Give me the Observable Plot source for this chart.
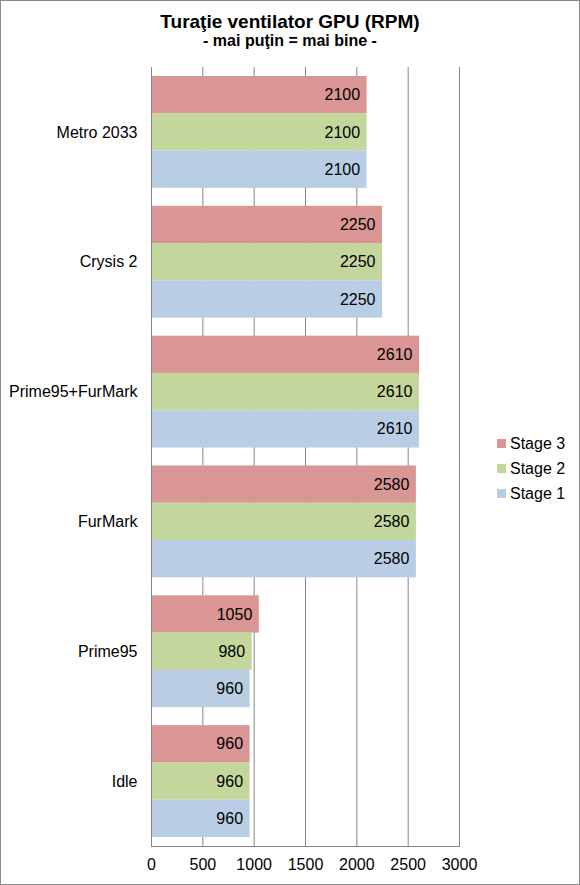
<!DOCTYPE html>
<html><head><meta charset="utf-8">
<script src="https://cdn.jsdelivr.net/npm/d3@7"></script>
<script src="https://cdn.jsdelivr.net/npm/@observablehq/plot@0.6"></script>
<style>
body{margin:0;background:#fff;font-family:"Liberation Sans",Arial,sans-serif;}
#chart{position:relative;width:580px;height:885px;overflow:hidden;background:#fff;}
#border{position:absolute;left:0;top:0;width:580px;height:885px;box-sizing:border-box;border:1px solid #8a8a8a;pointer-events:none;}
.t{position:absolute;left:0;width:580px;text-align:center;font-weight:bold;color:#000;white-space:nowrap;}
#title{top:12px;font-size:19px;line-height:19px;}
#subtitle{top:33px;font-size:16px;line-height:16px;}
#plot{position:absolute;left:0;top:55px;}
#legend{position:absolute;left:497px;top:431px;font-size:16px;color:#000;}
.li{height:25px;line-height:22px;display:flex;align-items:center;white-space:nowrap;}
.sw{width:9px;height:9px;margin-right:4px;display:inline-block;}
</style></head><body>
<div id="chart">
  <div id="title" class="t">Turaţie ventilator GPU (RPM)</div>
  <div id="subtitle" class="t">- mai puţin = mai bine -</div>
  <div id="plot"></div>
  <div id="legend"></div>
  <div id="border"></div>
</div>
<script>
const games = ["Metro 2033", "Crysis 2", "Prime95+FurMark", "FurMark", "Prime95", "Idle"];
const stages = ["Stage 3", "Stage 2", "Stage 1"];
const stage3 = [2100, 2250, 2610, 2580, 1050, 960];
const stage2 = [2100, 2250, 2610, 2580, 980, 960];
const stage1 = [2100, 2250, 2610, 2580, 960, 960];
const xTicks = [0, 500, 1000, 1500, 2000, 2500, 3000];
const colors = ["#d99694", "#c3d69b", "#b9cde5"];

const seriesByStage = {"Stage 3": stage3, "Stage 2": stage2, "Stage 1": stage1};
const data = games.flatMap((g, i) => stages.map(s => ({game: g, stage: s, value: seriesByStage[s][i]})));

const chart = Plot.plot({
  width: 580,
  height: 830,
  marginLeft: 151,
  marginRight: 121,
  marginTop: 12,
  marginBottom: 39,
  style: {fontFamily: "Liberation Sans, Arial, sans-serif", fontSize: "16px", color: "#000", background: "transparent"},
  x: {domain: [0, 3000], axis: null},
  y: {domain: stages, axis: null, paddingInner: 0, paddingOuter: 0.241, round: false},
  fy: {domain: games, padding: 0, label: null, axis: null, round: false},
  color: {domain: stages, range: colors},
  marks: [
    Plot.gridX(xTicks, {stroke: "#868686", strokeOpacity: 1}),
    Plot.barX(data, {fy: "game", y: "stage", x: "value", fill: "stage"}),
    Plot.text(data, {fy: "game", y: "stage", x: "value", text: d => String(d.value), textAnchor: "end", dx: -7, fill: "#000", fontSize: 16}),
    Plot.ruleX([0], {stroke: "#868686"}),
    Plot.axisFy({anchor: "left", tickSize: 0, tickPadding: 14, fontSize: 16, label: null}),
    Plot.axisX(xTicks, {anchor: "bottom", tickSize: 0, tickPadding: 12, fontSize: 16, label: null, tickFormat: d => String(d)}),
    Plot.frame({anchor: "bottom", facetAnchor: "bottom", stroke: "#868686"})
  ]
});
document.getElementById("plot").appendChild(chart);

const legend = document.getElementById("legend");
stages.forEach((s, i) => {
  const row = document.createElement("div");
  row.className = "li";
  const sw = document.createElement("span");
  sw.className = "sw";
  sw.style.background = colors[i];
  row.appendChild(sw);
  row.appendChild(document.createTextNode(s));
  legend.appendChild(row);
});
</script>
</body></html>
